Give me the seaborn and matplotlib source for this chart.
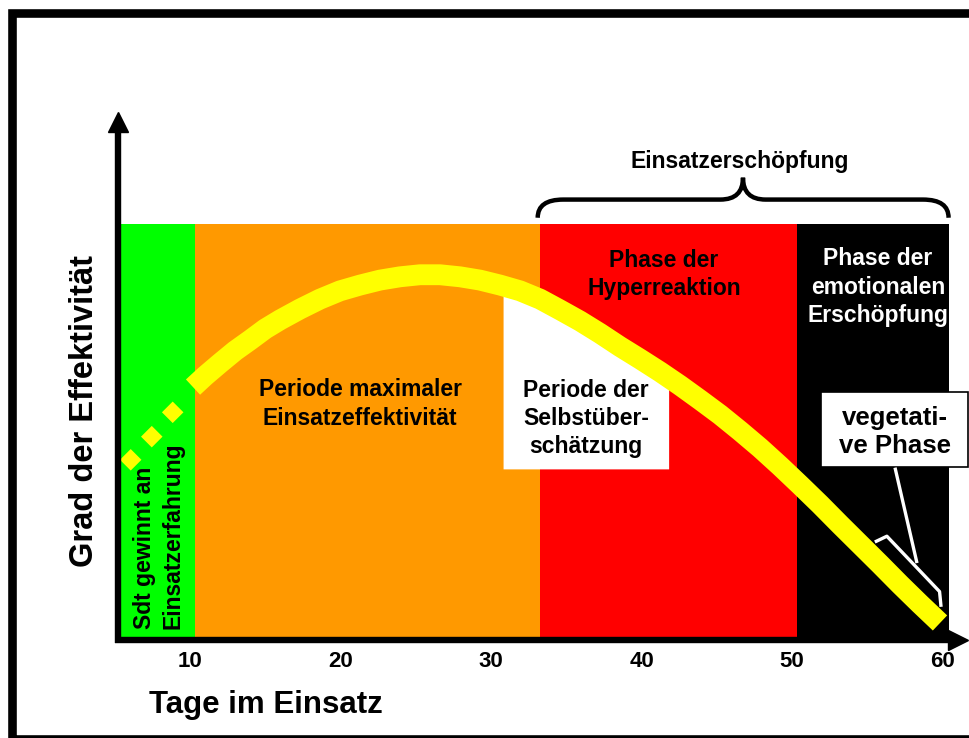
import numpy as np
import pandas as pd
import matplotlib
matplotlib.use("Agg")
import matplotlib.pyplot as plt
from matplotlib.path import Path
from matplotlib.patches import PathPatch, Rectangle
import seaborn as sns

# ---------------- data ----------------
phase_labels = ["Sdt gewinnt an\nEinsatzerfahrung",
                "Periode maximaler\nEinsatzeffektivität",
                "Phase der\nHyperreaktion",
                "Phase der\nemotionalen\nErschöpfung"]
phase_start = [5.4, 10.3, 33.25, 50.3]
phase_end = [10.3, 33.25, 50.3, 60.4]
phase_colors = ["#00FF00", "#FF9900", "#FF0000", "#000000"]
phase_top = 100

curve_days = [10.2, 11.0, 12.0, 13.0, 14.0, 15.0, 16.0, 17.31, 18.64, 19.97,
              21.30, 22.62, 23.95, 25.28, 26.61, 27.94, 29.27, 30.60, 31.93, 33.26,
              34.58, 35.91, 37.24, 38.57, 39.90, 41.23, 42.56, 43.89, 45.22, 46.54,
              47.87, 49.20, 50.53, 51.86, 53.19, 54.52, 55.85, 57.18, 58.50, 59.83]
curve_eff = [60.5, 63.2, 66.3, 69.3, 71.9, 74.6, 76.8, 79.4, 81.8, 83.8,
             85.2, 86.4, 87.2, 87.7, 87.7, 87.2, 86.4, 85.2, 83.8, 81.8,
             79.2, 76.5, 73.5, 70.3, 67.3, 64.2, 60.9, 57.4, 53.8, 49.9,
             45.8, 41.4, 36.8, 32.1, 27.2, 22.4, 17.6, 12.7, 8.0, 3.4]

early_days = [6.06, 7.46, 8.85]
early_eff = [42.9, 48.5, 54.4]

tick_days = [10, 20, 30, 40, 50, 60]

selbst_label = "Periode der\nSelbstüber-\nschätzung"
selbst_range = [30.8, 41.8]
selbst_bottom = 40.7

erschoepfung_label = "Einsatzerschöpfung"
erschoepfung_range = [33.1, 60.4]
erschoepfung_tip = 46.74

vegetativ_label = "vegetati-\nve Phase"

# ---------------- style ----------------
sns.set_style("white")
plt.rcParams["font.family"] = ["Liberation Sans", "DejaVu Sans"]
plt.rcParams["font.weight"] = "bold"
plt.rcParams["text.color"] = "black"
plt.rcParams["axes.labelcolor"] = "black"
plt.rcParams["xtick.color"] = "black"
plt.rcParams["ytick.color"] = "black"

W, H = 970, 738
fig = plt.figure(figsize=(W / 100, H / 100), dpi=100)
fig.patch.set_facecolor("white")
ax = fig.add_axes([118 / W, 1 - 637 / H, 850 / W, 525 / H])
ax.set_xlim(5.216, 61.69)
ax.set_ylim(0, 127.1)
ax.set_facecolor("none")
for s in ax.spines.values():
    s.set_visible(False)

# phase backgrounds
ax.bar(phase_start, phase_top, width=np.array(phase_end) - np.array(phase_start),
       align="edge", color=phase_colors, linewidth=0, zorder=1)

# white area "Periode der Selbstüberschätzung"
xs = np.concatenate([[selbst_range[0]],
                     [d for d in curve_days if selbst_range[0] < d < selbst_range[1]],
                     [selbst_range[1]]])
ys = np.interp(xs, curve_days, curve_eff)
ax.fill_between(xs, selbst_bottom, ys, color="white", lw=0, zorder=2)

# effectiveness curve
curve_df = pd.DataFrame({"Tage": curve_days, "Effektivität": curve_eff})
sns.lineplot(data=curve_df, x="Tage", y="Effektivität", ax=ax, color="#FFFF00",
             linewidth=15, sort=False, estimator=None, zorder=4,
             solid_capstyle="butt", solid_joinstyle="round")
sns.scatterplot(x=early_days, y=early_eff, ax=ax, marker="D", s=120,
                color="#FFFF00", edgecolor="none", linewidth=0, zorder=4)

# axes arrows
ax.plot([0, 0], [-0.0115, 0.975], transform=ax.transAxes, color="black",
        lw=4.6, solid_capstyle="butt", clip_on=False, zorder=6)
ax.plot([0], [0.981], transform=ax.transAxes, marker="^", ms=14, color="black",
        clip_on=False, zorder=6)
ax.plot([-0.004, 0.98], [-0.0057, -0.0057], transform=ax.transAxes, color="black",
        lw=4.6, solid_capstyle="butt", clip_on=False, zorder=6)
ax.plot([0.988], [-0.0057], transform=ax.transAxes, marker=">", ms=14, color="black",
        clip_on=False, zorder=6)

# ticks and labels
ax.set_xticks(tick_days)
ax.set_xticklabels([str(t) for t in tick_days], fontsize=16, fontweight="bold",
                   color="black")
ax.set_yticks([])
ax.tick_params(axis="x", length=0, pad=10)
ax.set_xlabel("Tage im Einsatz", fontsize=22.5, fontweight="bold", color="black")
ax.xaxis.set_label_coords(0.174, -0.10)
ax.set_ylabel("Grad der Effektivität", fontsize=23.5, fontweight="bold", color="black")
ax.yaxis.set_label_coords(-0.021, 0.43)

# phase texts
ax.text(7.94, 1.9, phase_labels[0], rotation=90, ha="center", va="bottom",
        multialignment="left", fontsize=16.5, linespacing=1.3, color="black", zorder=5)
ax.text(21.3, 56.4, phase_labels[1], ha="center", va="center", fontsize=16.5,
        linespacing=1.3, color="black", zorder=5)
ax.text(41.5, 87.7, phase_labels[2], ha="center", va="center", fontsize=16.5,
        linespacing=1.3, color="black", zorder=5)
ax.text(55.7, 84.7, phase_labels[3], ha="center", va="center", fontsize=16.5,
        linespacing=1.3, color="white", zorder=5)
ax.text(36.3, 52.9, selbst_label, ha="center", va="center", fontsize=16.5,
        linespacing=1.3, color="black", zorder=5)

# brace "Einsatzerschöpfung"
x0, x1 = erschoepfung_range
xm = erschoepfung_tip
y_end, y_mid, y_tip = 101.5, 105.9, 111.2
de, dm = 1.7, 1.5
verts = [(x0, y_end), (x0, y_mid), (x0 + de, y_mid),
         (xm - dm, y_mid), (xm, y_mid), (xm, y_tip),
         (xm, y_mid), (xm + dm, y_mid),
         (x1 - de, y_mid), (x1, y_mid), (x1, y_end)]
codes = [Path.MOVETO, Path.CURVE3, Path.CURVE3,
         Path.LINETO, Path.CURVE3, Path.CURVE3,
         Path.CURVE3, Path.CURVE3,
         Path.LINETO, Path.CURVE3, Path.CURVE3]
ax.add_patch(PathPatch(Path(verts, codes), fill=False, lw=3.2, ec="black",
                       capstyle="butt", clip_on=False, zorder=5))
ax.text(46.5, 115.0, erschoepfung_label, ha="center", va="center",
        fontsize=16.5, color="black")

# vegetative phase callout
ax.add_patch(Rectangle((51.93, 41.2), 61.69 - 51.93, 59.3 - 41.2, fc="white",
                       ec="black", lw=1.2, clip_on=False, zorder=5))
ax.text(56.84, 49.6, vegetativ_label, ha="center", va="center", fontsize=18.5,
        linespacing=1.25, color="black", zorder=6)
ax.plot([56.84, 58.30], [41.0, 17.9], color="white", lw=2.4, zorder=5,
        solid_capstyle="butt")
ax.plot([55.5, 56.3, 59.8, 59.9], [23.0, 24.4, 11.0, 7.3], color="white", lw=2.4,
        zorder=5, solid_joinstyle="round", solid_capstyle="butt")

# outer frame
fig.add_artist(Rectangle((12.5 / W, -0.5 / H), 1.2, 1 - 12.5 / H + 0.5 / H,
                         transform=fig.transFigure, fill=False, ec="black",
                         lw=6.2, joinstyle="miter"))

fig.savefig("out.png", dpi=100)
